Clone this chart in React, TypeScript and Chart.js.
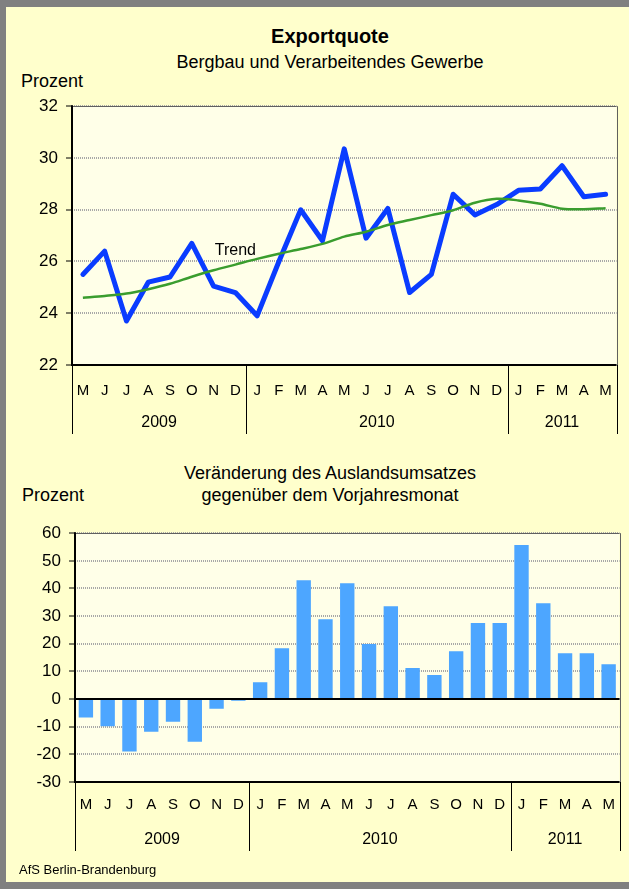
import React, { useEffect, useRef } from "react";
import { Chart, registerables } from "chart.js";

Chart.register(...registerables);

const FONT = '"Liberation Sans", Arial, sans-serif';

// ---- data ----
const months = ["M", "J", "J", "A", "S", "O", "N", "D", "J", "F", "M", "A", "M", "J", "J", "A", "S", "O", "N", "D", "J", "F", "M", "A", "M"];
const years = ["2009", "2010", "2011"];
const monthsPerYear = [8, 12, 5];

const exportQuote = [25.5, 26.4, 23.7, 25.2, 25.4, 26.7, 25.05, 24.8, 23.9, 26.0, 28.0, 26.8, 30.35, 26.9, 28.05, 24.8, 25.5, 28.6, 27.8, 28.2, 28.75, 28.8, 29.7, 28.5, 28.6];
const exportTrend = [24.6, 24.67, 24.76, 24.93, 25.14, 25.41, 25.66, 25.88, 26.1, 26.3, 26.48, 26.68, 26.96, 27.15, 27.41, 27.6, 27.79, 27.98, 28.27, 28.42, 28.36, 28.23, 28.04, 28.02, 28.06];
const salesChange = [-6.7, -9.8, -19.0, -11.8, -8.2, -15.4, -3.5, -0.6, 6.1, 18.4, 43.0, 28.9, 41.9, 19.9, 33.6, 11.2, 8.7, 17.3, 27.5, 27.5, 55.7, 34.7, 16.6, 16.6, 12.6];

const quoteAxis = { min: 22, max: 32, step: 2 };
const changeAxis = { min: -30, max: 60, step: 10 };
const trendLabel = { text: "Trend", index: 7, value: 26.42 };

// ---- styles ----
const PLOT_BG = "#FFFFE8";
const OUTER_BG = "#FFFFCC";

type FrameCfg = {
  zeroLine: boolean;
  monthRowOffset: number;
  yearOffset: number;
  sepLength: number;
  label?: { text: string; index: number; value: number };
};

function makeFramePlugin(cfg: FrameCfg) {
  return {
    id: "frameDeco",
    beforeDraw(chart: any) {
      const { ctx, chartArea: a } = chart;
      ctx.save();
      ctx.fillStyle = PLOT_BG;
      ctx.fillRect(a.left, a.top, a.right - a.left, a.bottom - a.top);
      ctx.restore();
    },
    afterDatasetsDraw(chart: any) {
      const { ctx, chartArea: a } = chart;
      const xs = chart.scales.x;
      const ys = chart.scales.y;
      ctx.save();
      // right + top thin border
      ctx.strokeStyle = "#606060";
      ctx.lineWidth = 1;
      ctx.beginPath();
      ctx.moveTo(Math.round(a.right) + 0.5, a.top);
      ctx.lineTo(Math.round(a.right) + 0.5, a.bottom);
      ctx.moveTo(a.left, Math.round(a.top) + 0.5);
      ctx.lineTo(a.right, Math.round(a.top) + 0.5);
      ctx.stroke();
      // zero line
      if (cfg.zeroLine) {
        const y0 = ys.getPixelForValue(0);
        ctx.strokeStyle = "#000";
        ctx.lineWidth = 2;
        ctx.beginPath();
        ctx.moveTo(a.left, y0);
        ctx.lineTo(a.right, y0);
        ctx.stroke();
      }
      // axes
      ctx.strokeStyle = "#000";
      ctx.lineWidth = 2;
      ctx.beginPath();
      ctx.moveTo(a.left, a.top - 1);
      ctx.lineTo(a.left, a.bottom);
      ctx.lineTo(a.right, a.bottom);
      ctx.stroke();
      // year separators
      const bounds: number[] = [a.left];
      let idx = 0;
      monthsPerYear.forEach((n, i) => {
        idx += n;
        if (i < monthsPerYear.length - 1) {
          bounds.push((xs.getPixelForValue(idx - 1) + xs.getPixelForValue(idx)) / 2);
        }
      });
      bounds.push(a.right);
      ctx.lineWidth = 1;
      ctx.beginPath();
      bounds.forEach((bx) => {
        const px = Math.round(bx) + 0.5;
        ctx.moveTo(px, a.bottom);
        ctx.lineTo(px, a.bottom + cfg.sepLength);
      });
      ctx.stroke();
      // year labels
      ctx.fillStyle = "#000";
      ctx.font = `16px ${FONT}`;
      ctx.textAlign = "center";
      ctx.textBaseline = "middle";
      years.forEach((yr, i) => {
        ctx.fillText(yr, (bounds[i] + bounds[i + 1]) / 2, a.bottom + cfg.yearOffset);
      });
      // series label
      if (cfg.label) {
        ctx.font = `16px ${FONT}`;
        ctx.fillText(cfg.label.text, xs.getPixelForValue(cfg.label.index), ys.getPixelForValue(cfg.label.value));
      }
      ctx.restore();
    },
  };
}

function baseScales(axis: { min: number; max: number; step: number }, yWidth: number, xHeight: number, monthPad: number) {
  return {
    x: {
      type: "category" as const,
      offset: true,
      grid: { display: false, drawTicks: false },
      border: { display: false },
      ticks: {
        autoSkip: false,
        maxRotation: 0,
        padding: monthPad,
        color: "#000",
        font: { family: FONT, size: 15 },
      },
      afterFit(scale: any) {
        scale.height = xHeight;
      },
    },
    y: {
      min: axis.min,
      max: axis.max,
      ticks: {
        stepSize: axis.step,
        padding: 8,
        color: "#000",
        font: { family: FONT, size: 17 },
      },
      grid: {
        color: "#a8a8a8",
        lineWidth: 2,
        tickColor: "#000",
        tickLength: 6,
        tickWidth: 1,
        tickBorderDash: [],
      },
      border: { display: false, dash: [1, 1] },
      afterFit(scale: any) {
        scale.width = yWidth;
      },
    },
  };
}

function QuoteChart() {
  const ref = useRef<HTMLCanvasElement>(null);
  useEffect(() => {
    const chart = new Chart(ref.current!, {
      type: "line",
      data: {
        labels: months,
        datasets: [
          {
            label: "Trend",
            data: exportTrend,
            borderColor: "#3A9D2E",
            borderWidth: 2.5,
            pointRadius: 0,
            tension: 0.3,
            fill: false,
          },
          {
            label: "Exportquote",
            data: exportQuote,
            borderColor: "#0A3CFF",
            borderWidth: 5,
            pointRadius: 0,
            tension: 0,
            borderJoinStyle: "round",
            borderCapStyle: "round",
            fill: false,
          },
        ],
      },
      options: {
        responsive: false,
        animation: false,
        layout: { padding: { top: 15, right: 7, left: 0, bottom: 0 } },
        plugins: { legend: { display: false }, tooltip: { enabled: false }, title: { display: false } },
        scales: baseScales(quoteAxis, 72, 75, 17) as any,
      },
      plugins: [makeFramePlugin({ zeroLine: false, monthRowOffset: 26, yearOffset: 58, sepLength: 69, label: trendLabel })],
    });
    return () => chart.destroy();
  }, []);
  return <canvas ref={ref} width={629} height={352} style={{ position: "absolute", left: 0, top: 88 }} />;
}

function ChangeChart() {
  const ref = useRef<HTMLCanvasElement>(null);
  useEffect(() => {
    const chart = new Chart(ref.current!, {
      type: "bar",
      data: {
        labels: months,
        datasets: [
          {
            label: "Veränderung",
            data: salesChange,
            backgroundColor: "#4DA6FF",
            borderWidth: 0,
            barPercentage: 0.66,
            categoryPercentage: 1,
          },
        ],
      },
      options: {
        responsive: false,
        animation: false,
        layout: { padding: { top: 18, right: 6, left: 0, bottom: 0 } },
        plugins: { legend: { display: false }, tooltip: { enabled: false }, title: { display: false } },
        scales: baseScales(changeAxis, 75, 83, 14) as any,
      },
      plugins: [makeFramePlugin({ zeroLine: true, monthRowOffset: 23, yearOffset: 58, sepLength: 69 })],
    });
    return () => chart.destroy();
  }, []);
  return <canvas ref={ref} width={629} height={350} style={{ position: "absolute", left: 0, top: 515 }} />;
}

const txt = (top: number, size: number, extra: React.CSSProperties = {}): React.CSSProperties => ({
  position: "absolute",
  top,
  fontFamily: FONT,
  fontSize: size,
  lineHeight: `${size}px`,
  color: "#000",
  whiteSpace: "nowrap",
  ...extra,
});

export default function App() {
  return (
    <div style={{ position: "absolute", left: 0, top: 0, width: 629, height: 889, background: "#808080", overflow: "hidden" }}>
      <div style={{ position: "absolute", left: 6, top: 7, width: 623, height: 875, background: OUTER_BG }} />
      <div style={txt(26, 20, { left: 30, width: 600, textAlign: "center", fontWeight: "bold" })}>Exportquote</div>
      <div style={txt(53, 18, { left: 30, width: 600, textAlign: "center" })}>Bergbau und Verarbeitendes Gewerbe</div>
      <div style={txt(72, 18, { left: 21 })}>Prozent</div>
      <QuoteChart />
      <div style={txt(464, 18, { left: 30, width: 600, textAlign: "center" })}>Veränderung des Auslandsumsatzes</div>
      <div style={txt(486, 18, { left: 30, width: 600, textAlign: "center" })}>gegenüber dem Vorjahresmonat</div>
      <div style={txt(486, 18, { left: 22 })}>Prozent</div>
      <ChangeChart />
      <div style={txt(863, 13, { left: 19 })}>AfS Berlin-Brandenburg</div>
    </div>
  );
}
